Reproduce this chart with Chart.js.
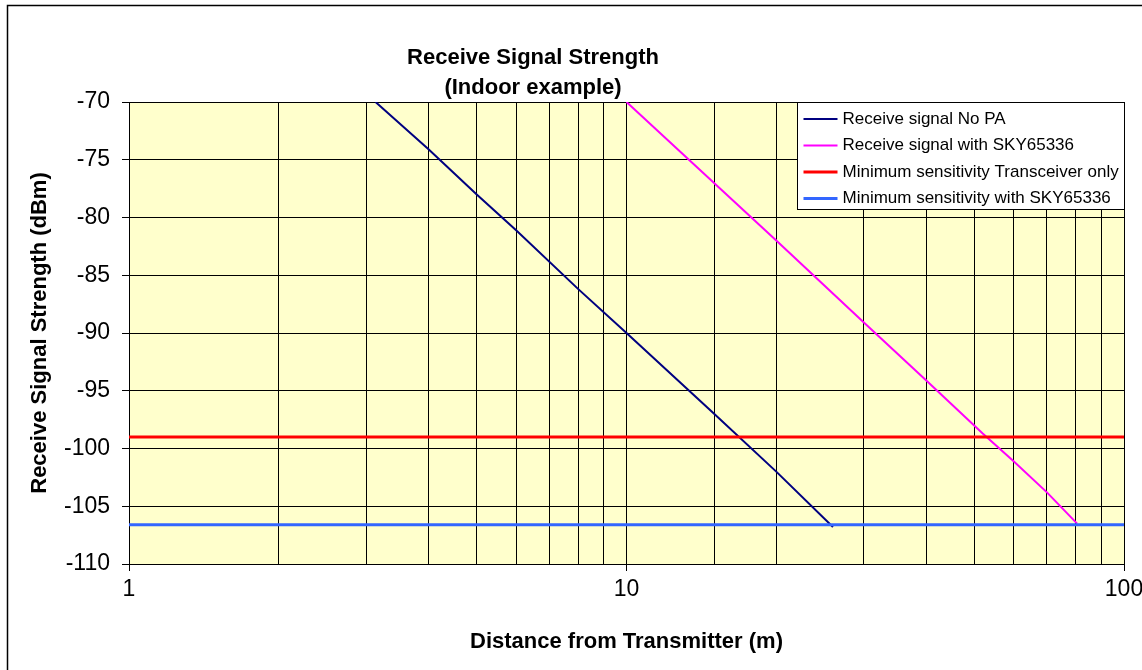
<!DOCTYPE html>
<html>
<head>
<meta charset="utf-8">
<script src="https://cdn.jsdelivr.net/npm/chart.js@4/dist/chart.umd.min.js"></script>
<style>
  html, body { margin: 0; padding: 0; background: #fff; }
  #wrap { width: 1142px; height: 670px; }
</style>
</head>
<body>
<div id="wrap"><canvas id="myChart1" width="1142" height="670"></canvas></div>
<script>
// values
const noPaDist = [3.13, 4, 5, 6, 8, 10, 15, 20, 26];
const noPaDbm = [-70, -74.1, -78, -81.1, -86.2, -90, -97, -102, -106.8];
const skyDist = [10, 20, 30, 40, 52, 60, 70, 80.5];
const skyDbm = [-70, -82, -89.1, -94.1, -98.7, -101.1, -103.8, -106.5];
const lineDist = [1, 100];
const minTrx = -99;
const minSky = -106.6;
const xLabels = [1, 10, 100];
const seriesNames = [
  'Receive signal No PA',
  'Receive signal with SKY65336',
  'Minimum sensitivity Transceiver only',
  'Minimum sensitivity with SKY65336'
];
const titleLines = ['Receive Signal Strength', '(Indoor example)'];

Chart.defaults.font.family = '"Liberation Sans", Arial, sans-serif';
Chart.defaults.color = '#000';

function pts(xs, ys) {
  return xs.map((x, i) => ({ x: x, y: ys[i] }));
}

function isDecade(v) {
  let l = Math.log10(v);
  return Math.abs(l - Math.round(l)) < 1e-9;
}

const frame = {
  id: 'frame',
  beforeDraw(chart) {
    const { ctx, chartArea } = chart;
    ctx.save();
    ctx.fillStyle = '#fff';
    ctx.fillRect(0, 0, chart.width, chart.height);
    ctx.strokeStyle = '#000';
    ctx.lineWidth = 1.5;
    ctx.beginPath();
    ctx.moveTo(7.5, chart.height);
    ctx.lineTo(7.5, 5.5);
    ctx.lineTo(chart.width, 5.5);
    ctx.stroke();
    ctx.fillStyle = '#FFFFCC';
    ctx.fillRect(chartArea.left, chartArea.top, chartArea.right - chartArea.left, chartArea.bottom - chartArea.top);
    ctx.restore();
  },
  afterDraw(chart) {
    const { ctx, chartArea } = chart;
    ctx.save();
    // title
    ctx.fillStyle = '#000';
    ctx.font = 'bold 22px "Liberation Sans", Arial, sans-serif';
    ctx.textAlign = 'center';
    ctx.textBaseline = 'middle';
    titleLines.forEach((t, i) => ctx.fillText(t, 533, 58 + i * 30));

    // legend
    const w = 327, h = 107;
    const lx = chartArea.right - w + 0.5, ly = chartArea.top + 0.5;
    ctx.fillStyle = '#fff';
    ctx.fillRect(lx, ly, w, h);
    ctx.strokeStyle = '#000';
    ctx.lineWidth = 1;
    ctx.strokeRect(lx, ly, w, h);
    ctx.font = '17px "Liberation Sans", Arial, sans-serif';
    ctx.textAlign = 'left';
    chart.data.datasets.forEach((ds, i) => {
      const y = ly + 16.5 + i * 26.5;
      ctx.strokeStyle = ds.borderColor;
      ctx.lineWidth = ds.borderWidth;
      ctx.beginPath();
      ctx.moveTo(lx + 6, y);
      ctx.lineTo(lx + 40, y);
      ctx.stroke();
      ctx.fillStyle = '#000';
      ctx.fillText(ds.label, lx + 45, y);
    });
    ctx.restore();
  }
};

const config = {
  type: 'line',
  data: {
    datasets: [
      { label: seriesNames[0], data: pts(noPaDist, noPaDbm), borderColor: '#000080', borderWidth: 2, order: 3 },
      { label: seriesNames[1], data: pts(skyDist, skyDbm), borderColor: '#FF00FF', borderWidth: 2, order: 2 },
      { label: seriesNames[2], data: pts(lineDist, [minTrx, minTrx]), borderColor: '#FF0000', borderWidth: 3, order: 1 },
      { label: seriesNames[3], data: pts(lineDist, [minSky, minSky]), borderColor: '#3366FF', borderWidth: 3, order: 0 }
    ]
  },
  options: {
    responsive: false,
    animation: false,
    events: [],
    parsing: false,
    elements: { point: { radius: 0 }, line: { tension: 0 } },
    layout: { padding: { top: 102, right: 18, left: 0, bottom: 0 } },
    plugins: { legend: { display: false }, title: { display: false }, tooltip: { enabled: false } },
    scales: {
      x: {
        type: 'logarithmic',
        min: 1,
        max: 100,
        afterFit(scale) {
          scale.height = 106;
          scale.paddingLeft = 0;
          scale.paddingRight = 0;
        },
        border: { color: '#000', width: 1 },
        grid: {
          color: '#000',
          lineWidth: 1,
          tickLength: 7,
          tickColor: (c) => (c.tick && isDecade(c.tick.value)) ? '#000' : 'rgba(0,0,0,0)'
        },
        ticks: {
          autoSkip: false,
          maxRotation: 0,
          padding: 5,
          font: { size: 23 },
          color: '#000',
          callback: (v) => xLabels.includes(Math.round(v * 1000) / 1000) ? String(v) : ''
        },
        title: {
          display: true,
          text: 'Distance from Transmitter (m)',
          font: { size: 22, weight: 'bold' },
          color: '#000',
          padding: { top: 0, bottom: 15 }
        }
      },
      y: {
        min: -110,
        max: -70,
        afterFit(scale) { scale.width = 129; },
        border: { color: '#000', width: 1 },
        grid: { color: '#000', lineWidth: 1, tickLength: 7, tickColor: '#000' },
        ticks: { stepSize: 5, autoSkip: false, padding: 12, font: { size: 23 }, color: '#000' },
        title: {
          display: true,
          text: 'Receive Signal Strength (dBm)',
          font: { size: 22, weight: 'bold' },
          color: '#000',
          padding: { top: 27, bottom: 0 }
        }
      }
    }
  },
  plugins: [frame]
};

new Chart(document.getElementById('myChart1').getContext('2d'), config);
</script>
</body>
</html>
